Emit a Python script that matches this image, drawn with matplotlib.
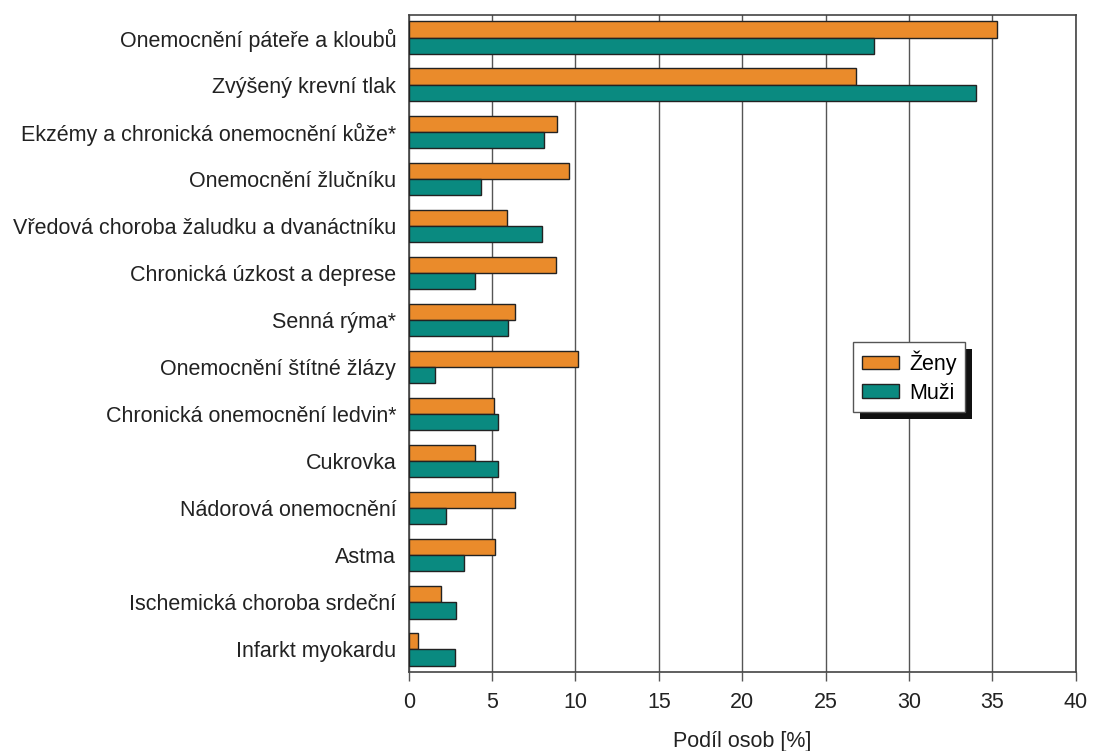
import matplotlib
matplotlib.use("Agg")
import matplotlib.pyplot as plt
from matplotlib.patches import Rectangle
from matplotlib.transforms import IdentityTransform

categories = [
    "Onemocnění páteře a kloubů",
    "Zvýšený krevní tlak",
    "Ekzémy a chronická onemocnění kůže*",
    "Onemocnění žlučníku",
    "Vředová choroba žaludku a dvanáctníku",
    "Chronická úzkost a deprese",
    "Senná rýma*",
    "Onemocnění štítné žlázy",
    "Chronická onemocnění ledvin*",
    "Cukrovka",
    "Nádorová onemocnění",
    "Astma",
    "Ischemická choroba srdeční",
    "Infarkt myokardu",
]
zeny = [35.3, 26.8, 8.9, 9.6, 5.9, 8.85, 6.4, 10.15, 5.1, 3.95, 6.4, 5.2, 1.95, 0.55]
muzi = [27.9, 34.05, 8.1, 4.35, 8.0, 4.0, 5.95, 1.55, 5.35, 5.35, 2.25, 3.3, 2.85, 2.75]
xticks = [0, 5, 10, 15, 20, 25, 30, 35, 40]

plt.rcParams['font.family'] = ['Liberation Sans', 'DejaVu Sans']

fig = plt.figure(figsize=(10.94, 7.51), dpi=100)
W, H = 1094, 751
left, right, top, bottom = 408.7, 1075.7, 14.7, 672.3
ax = fig.add_axes([left / W, 1 - bottom / H, (right - left) / W, (bottom - top) / H])

orange = "#EA8B2B"
teal = "#0A8A80"
bh = 0.347
y = list(range(len(categories)))
ax.barh([v - bh / 2 for v in y], zeny, height=bh, color=orange, edgecolor="#222222", linewidth=1.0, zorder=3, label="Ženy")
ax.barh([v + bh / 2 for v in y], muzi, height=bh, color=teal, edgecolor="#222222", linewidth=1.0, zorder=3, label="Muži")

fs = 15.5
ax.set_ylim(len(categories) - 1 + 0.49, -0.49)
ax.set_xlim(0, 40)
ax.set_xticks(xticks)
ax.set_yticks(y)
ax.set_yticklabels(categories, fontsize=fs, color="#222222")
ax.tick_params(axis='y', length=0, pad=9)
ax.tick_params(axis='x', length=6.5, width=1, color="#555555", labelsize=fs, labelcolor="#222222", pad=8)
ax.xaxis.grid(True, color="#555555", linewidth=1.0, zorder=0)
ax.set_axisbelow(True)
for s in ax.spines.values():
    s.set_color("#444444")
    s.set_linewidth(1.2)
ax.set_xlabel("Podíl osob [%]", fontsize=fs, color="#222222", labelpad=13)

leg = ax.legend(loc='upper left', bbox_to_anchor=((853 - left) / (right - left), (bottom - 342) / (bottom - top)),
                borderaxespad=0, fontsize=15.5, frameon=True, fancybox=False, framealpha=1,
                edgecolor="#555555", handlelength=1.75, handleheight=0.6, handletextpad=0.45,
                borderpad=0.4, labelspacing=0.35)
leg.get_frame().set_linewidth(1.0)
leg.set_zorder(6)

fig.canvas.draw()
bb = leg.get_window_extent()
sh = Rectangle((bb.x0 + 7, bb.y0 - 7), bb.width, bb.height, transform=IdentityTransform(),
               facecolor="#111111", edgecolor="none", zorder=5.5, clip_on=False)
ax.add_artist(sh)

fig.savefig("out.png", dpi=100)
